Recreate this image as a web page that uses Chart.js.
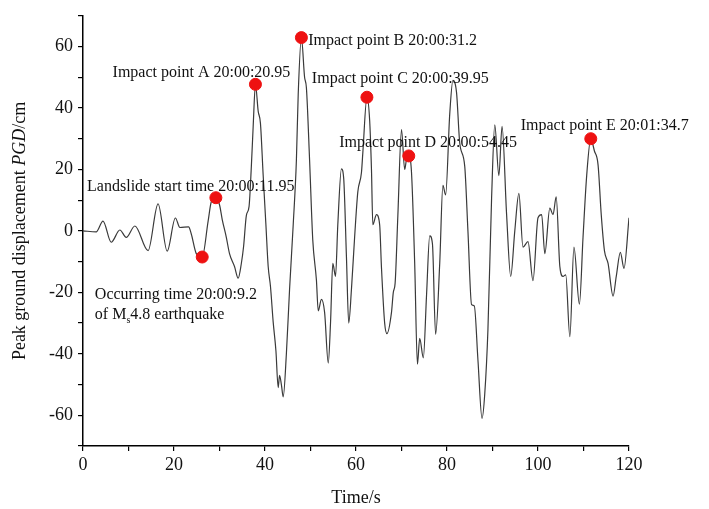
<!DOCTYPE html>
<html>
<head>
<meta charset="utf-8">
<script src="https://cdn.jsdelivr.net/npm/chart.js@4"></script>
<style>
  body { margin: 0; background: #fff; }
</style>
</head>
<body>
<canvas id="c" width="709" height="509"></canvas>
<script>
// trace (s, cm)
var timeSec = [0, 2.9, 4.4, 6.2, 8.1, 9.5, 11.4, 14.3, 16.5, 18.5, 20.3, 21.3, 23.2, 23.8, 24.9, 26.2, 27.5, 28.2, 29.2, 30.0,
  30.6, 31.5, 32.2, 33.3, 34.1, 34.8, 35.3, 35.9, 36.5, 37.0, 37.4, 37.9, 38.5, 39.0, 39.6, 40.2, 40.7, 41.2, 41.8, 42.4,
  42.9, 43.2, 43.6, 44.0, 44.7, 45.4, 46.2, 46.9, 47.3, 48.0, 48.7, 49.1, 49.8, 50.5, 51.3, 51.7, 52.4, 53.1, 53.9, 54.4,
  54.9, 55.5, 56.0, 56.8, 57.3, 57.9, 58.4, 59.0, 59.7, 60.4, 61.2, 61.5, 62.4, 63.0, 63.4, 63.7, 64.5, 65.2, 65.6, 66.3,
  66.8, 67.8, 68.2, 68.6, 69.2, 70.0, 70.7, 71.1, 71.6, 72.2, 72.9, 73.5, 74.0, 74.8, 75.5, 76.2, 76.8, 77.5, 78.4, 79.1,
  79.7, 80.6, 81.3, 82.1, 82.8, 83.9, 84.6, 85.4, 86.0, 86.8, 87.7, 88.3, 89.0, 89.8, 90.5, 91.4, 92.1, 93.1, 94.0, 94.9,
  95.8, 96.7, 97.8, 98.9, 100.0, 100.8, 101.5, 102.6, 103.3, 104.0, 104.8, 105.5, 106.1, 107.0, 107.9, 109.1, 109.9, 110.7, 111.6, 112.4,
  113.2, 113.9, 114.6, 115.4, 116.5, 117.2, 118.1, 118.9, 120.0];
var pgdCm = [0, -0.3, 3.2, -3.7, 0.3, -2.1, 1.6, -6.4, 8.8, -6.6, 4.2, 1.1, 1.3, -1, -7.4, -8.5, 3.2, 9.5, 10.8, 8.5,
  3.7, -2.1, -7.4, -11.6, -15.4, -10.6, -5, 5, 8, 21, 34, 47.7, 39, 35, 18, 2, -11.6, -18, -29.7, -39,
  -51, -47, -50, -54, -40, -19, 2, 23, 44.5, 62.9, 50, 46.6, 23, -3, -16, -26, -22.3, -26.5, -43, -30,
  -10.6, -14.8, 2, 20.2, 17, -8.5, -30, -19, -2, 12.7, 19, 25.4, 43.5, 36, 20, 2, 5.3, 2, -12, -30,
  -33.4, -26.5, -20, -17, 5, 33, 20, 23.3, 24.4, 19, -10.6, -43.4, -35, -41.3, -21, -1.6, -4.2, -33.7, -10.6, 14.8,
  11.7, 38, 49, 45, 28.6, 21, 0, -24, -24.4, -42, -61, -53, -32, 10.6, 34.5, 18, 34, 5.3, -14.8, 0,
  12.2, -5.3, -3.5, -16.2, 4.3, 5.3, -7.4, 7.4, 5.3, 11.1, -11.6, -14.8, -14.3, -34.4, -5.3, -23.8, -2, 18, 30, 26,
  21.5, 5.3, -6.4, -10.6, -21.2, -14.8, -7, -12.2, 4.3];

// marked events (red dots)
var eventTime = [26.2, 29.2, 37.9, 48.0, 62.4, 71.6, 111.6];
var eventPgd = [-8.5, 10.8, 47.7, 62.9, 43.5, 24.4, 30.0];

var xTicks = [0, 20, 40, 60, 80, 100, 120];
var yTicks = [-60, -40, -20, 0, 20, 40, 60];

// annotation text, placed in data units (left edge, middle)
var notes = [
  { text: "Landslide start time 20:00:11.95", x: 0.9, y: 14.5 },
  { text: "Impact point A 20:00:20.95", x: 6.5, y: 51.4 },
  { text: "Impact point B 20:00:31.2", x: 49.5, y: 61.8 },
  { text: "Impact point C 20:00:39.95", x: 50.3, y: 49.6 },
  { text: "Impact point D 20:00:54.45", x: 56.3, y: 28.6 },
  { text: "Impact point E 20:01:34.7", x: 96.2, y: 34.2 },
  { text: "Occurring time 20:00:9.2", x: 2.6, y: -20.9 }
];

var serif = "'Liberation Serif', 'Times New Roman', serif";

var trace = timeSec.map(function (t, i) { return { x: t, y: pgdCm[i] }; });
var dots = eventTime.map(function (t, i) { return { x: t, y: eventPgd[i] }; });

var extras = {
  id: "extras",
  afterDatasetsDraw: function (chart) {
    var ctx = chart.ctx, xs = chart.scales.x, ys = chart.scales.y;
    ctx.save();
    ctx.fillStyle = "#111";
    ctx.textBaseline = "middle";
    ctx.textAlign = "left";
    ctx.font = "16px " + serif;
    notes.forEach(function (n) {
      ctx.fillText(n.text, xs.getPixelForValue(n.x), ys.getPixelForValue(n.y));
    });
    // second line with M subscript s
    var lx = xs.getPixelForValue(2.6), ly = ys.getPixelForValue(-27.2);
    ctx.fillText("of M", lx, ly);
    var w = ctx.measureText("of M").width;
    ctx.font = "10px " + serif;
    ctx.fillText("s", lx + w, ly + 6);
    var ws = ctx.measureText("s").width;
    ctx.font = "16px " + serif;
    ctx.fillText("4.8 earthquake", lx + w + ws, ly);

    // y axis title with italic PGD
    var parts = [
      { t: "Peak ground displacement ", f: "18px " + serif },
      { t: "PGD", f: "italic 18px " + serif },
      { t: "/cm", f: "18px " + serif }
    ];
    var total = 0;
    parts.forEach(function (p) { ctx.font = p.f; p.w = ctx.measureText(p.t).width; total += p.w; });
    ctx.translate(20, (chart.chartArea.top + chart.chartArea.bottom) / 2);
    ctx.rotate(-Math.PI / 2);
    var px = -total / 2;
    parts.forEach(function (p) {
      ctx.font = p.f;
      ctx.fillText(p.t, px, 0);
      px += p.w;
    });
    ctx.restore();
  }
};

var axisCommon = {
  grid: { drawOnChartArea: false, drawTicks: true, tickLength: 5, color: "#000", lineWidth: 1.2 },
  border: { display: true, color: "#000", width: 1.5 }
};

new Chart(document.getElementById("c"), {
  type: "line",
  data: {
    datasets: [
      {
        label: "PGD",
        data: trace,
        borderColor: "#3a3a3a",
        borderWidth: 1.2,
        pointRadius: 0,
        cubicInterpolationMode: "monotone",
        fill: false,
        order: 2
      },
      {
        label: "events",
        type: "scatter",
        data: dots,
        pointRadius: 6,
        pointBackgroundColor: "#ee1111",
        pointBorderColor: "#ee1111",
        showLine: false,
        order: 1
      }
    ]
  },
  options: {
    responsive: false,
    animation: false,
    layout: { padding: { top: 6, right: 80, bottom: 0, left: 0 } },
    plugins: {
      legend: { display: false },
      tooltip: { enabled: false }
    },
    scales: {
      x: Object.assign({}, axisCommon, {
        type: "linear",
        min: 0,
        max: 120,
        afterFit: function (s) { s.height = 63; },
        ticks: {
          stepSize: 10,
          autoSkip: false,
          maxRotation: 0,
          padding: 3,
          color: "#111",
          font: { family: serif, size: 18 },
          callback: function (v) { return xTicks.indexOf(v) >= 0 ? String(v) : ""; }
        },
        title: {
          display: true,
          text: "Time/s",
          color: "#111",
          font: { family: serif, size: 18 },
          padding: { top: 2, bottom: 0 }
        }
      }),
      y: Object.assign({}, axisCommon, {
        type: "linear",
        min: -70,
        max: 70,
        afterFit: function (s) { s.width = 83; },
        ticks: {
          stepSize: 10,
          autoSkip: false,
          padding: 5,
          color: "#111",
          font: { family: serif, size: 18 },
          callback: function (v) { return yTicks.indexOf(v) >= 0 ? String(v) : ""; }
        }
      })
    }
  },
  plugins: [extras]
});
</script>
</body>
</html>
